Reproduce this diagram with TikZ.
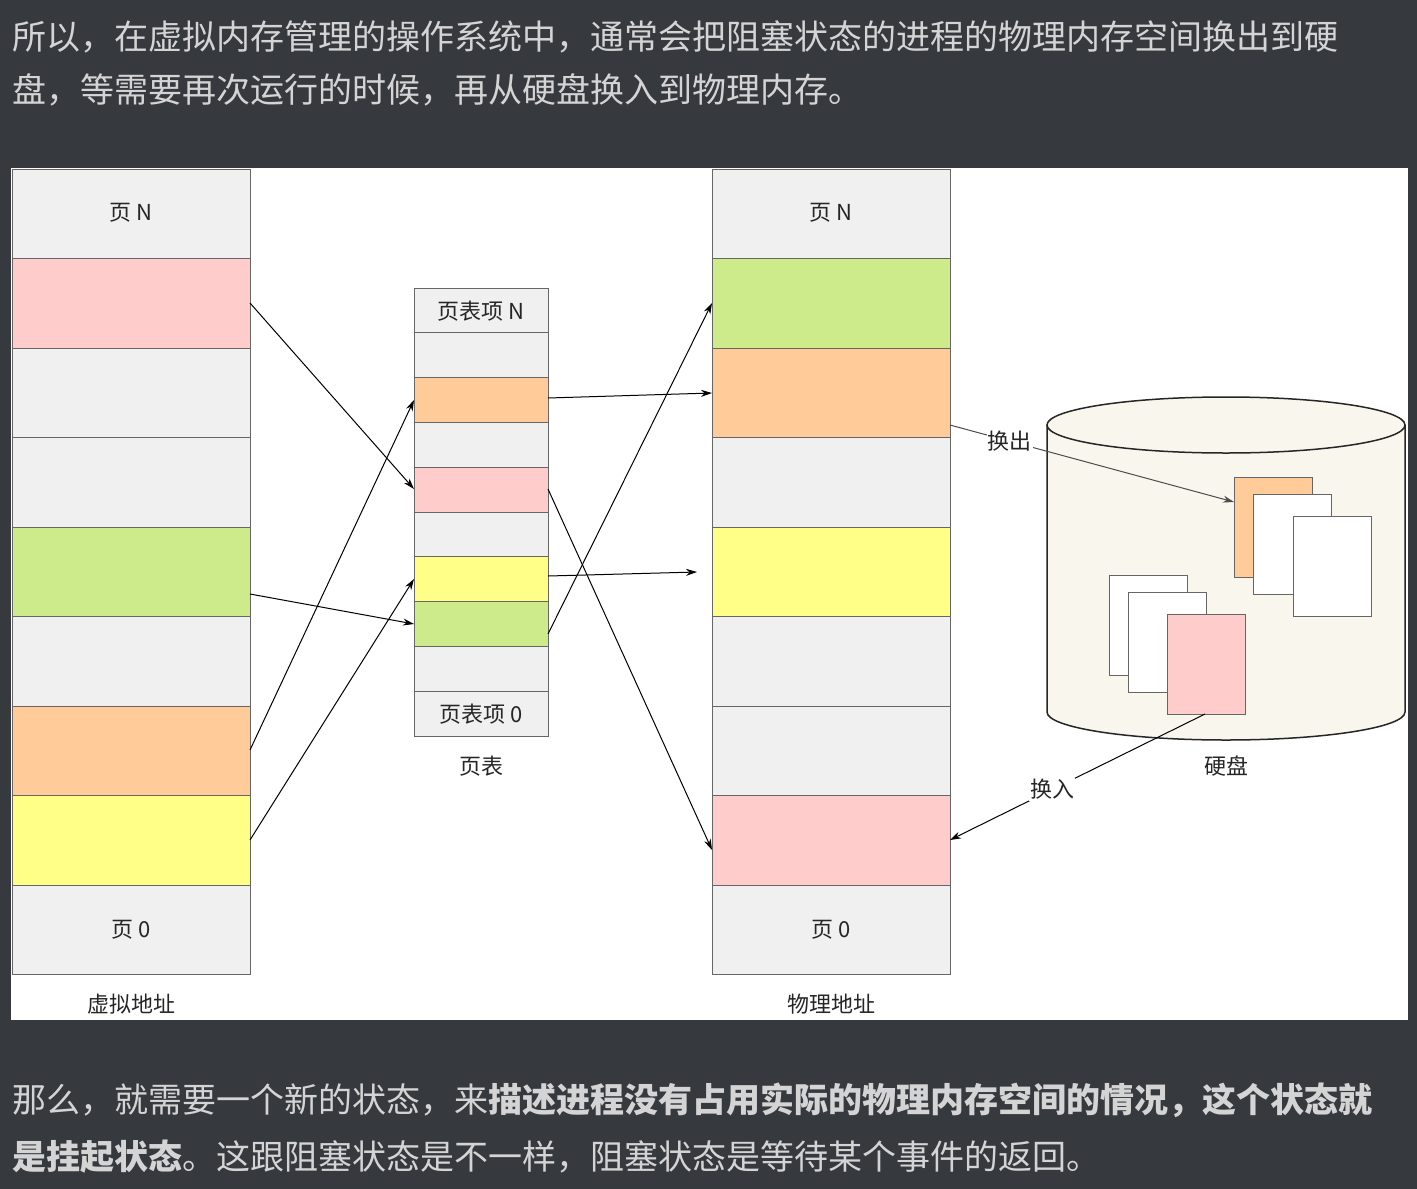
\documentclass[tikz,border=0pt]{standalone}
\usepackage{fontspec}
\setmainfont{Noto Sans CJK SC}
\usetikzlibrary{arrows.meta}
\definecolor{bg}{HTML}{363A3F}
\definecolor{tx}{HTML}{D4D4D4}
\definecolor{cg}{HTML}{F0F0F0}
\definecolor{cp}{HTML}{FFCCCC}
\definecolor{cgr}{HTML}{CDEB8B}
\definecolor{co}{HTML}{FFCC99}
\definecolor{cy}{HTML}{FFFF88}
\definecolor{cyl}{HTML}{F9F7ED}
\tikzset{cell/.style={draw=black!60,line width=1pt},
 lbl/.style={font=\fontsize{22}{26}\selectfont,text=black!85},
 para/.style={font=\fontsize{34}{38}\selectfont,text=tx,anchor=west,inner sep=0},
 arr/.style={-{Stealth[length=11pt,width=7pt]},line width=1pt}}
\begin{document}
\begin{tikzpicture}[x=1pt,y=-1pt]
\fill[bg] (0,0) rectangle (1417,1189);
\fill[white] (11,168) rectangle (1408,1020);
\node[para] (t1) at (12,37) {所以，在虚拟内存管理的操作系统中，通常会把阻塞状态的进程的物理内存空间换出到硬};
\node[para] (t2) at (12,90) {盘，等需要再次运行的时候，再从硬盘换入到物理内存。};
\node[para] (b1) at (12,1100) {那么，就需要一个新的状态，来\textbf{描述进程没有占用实际的物理内存空间的情况，这个状态就}};
\node[para] (b2) at (12,1157) {\textbf{是挂起状态}。这跟阻塞状态是不一样，阻塞状态是等待某个事件的返回。};
% virtual
\foreach \c [count=\i from 0] in {cg,cp,cg,cg,cgr,cg,co,cy,cg}
  \filldraw[cell,fill=\c] (12,169+\i*89.5) rectangle (250,258.5+\i*89.5);
\node[lbl] (vN) at (131,213) {页 N};
\node[lbl] (v0) at (131,930) {页 0};
\node[lbl] (vl) at (131,1004) {虚拟地址};
% physical
\foreach \c [count=\i from 0] in {cg,cgr,co,cg,cy,cg,cg,cp,cg}
  \filldraw[cell,fill=\c] (712,169+\i*89.5) rectangle (950,258.5+\i*89.5);
\node[lbl] (pN) at (831,213) {页 N};
\node[lbl] (p0) at (831,930) {页 0};
\node[lbl] (pl) at (831,1004) {物理地址};
% page table
\foreach \c [count=\i from 0] in {cg,cg,co,cg,cp,cg,cy,cgr,cg,cg}
  \filldraw[cell,fill=\c] (414,288+\i*44.8) rectangle (548,332.8+\i*44.8);
\node[lbl] (tN) at (481,311) {页表项 N};
\node[lbl] (t0) at (481,714) {页表项 0};
\node[lbl] (tl) at (481,766) {页表};
% coordinates
\coordinate (vp) at (250,303); \coordinate (vg) at (250,594);
\coordinate (vo) at (250,750); \coordinate (vy) at (250,840);
\coordinate (tpL) at (414,489); \coordinate (tgL) at (414,624);
\coordinate (toL) at (414,400); \coordinate (tyL) at (414,579);
\coordinate (toR) at (548,398); \coordinate (tpR) at (548,489);
\coordinate (tyR) at (548,576); \coordinate (tgR) at (548,634);
\coordinate (po) at (712,393); \coordinate (pp) at (712,850);
\coordinate (py) at (697,572); \coordinate (pg) at (712,303);
\draw[arr] (vp) -- (tpL); \draw[arr] (vg) -- (tgL);
\draw[arr] (vo) -- (toL); \draw[arr] (vy) -- (tyL);
\draw[arr] (toR) -- (po); \draw[arr] (tpR) -- (pp);
\draw[arr] (tyR) -- (py); \draw[arr] (tgR) -- (pg);
% disk
\filldraw[fill=cyl,draw=black!85,line width=1.5pt] (1047,425) -- (1047,712) arc[start angle=180,end angle=0,x radius=179,y radius=28] -- (1405,425);
\filldraw[fill=cyl,draw=black!85,line width=1.5pt] (1226,425) ellipse[x radius=179,y radius=28];
\node[lbl] (dl) at (1226,766) {硬盘};
\filldraw[cell,fill=co] (1234,477) rectangle (1312,577);
\filldraw[cell,fill=white] (1253,494) rectangle (1331,594);
\filldraw[cell,fill=white] (1293,516) rectangle (1371,616);
\filldraw[cell,fill=white] (1109,575) rectangle (1187,675);
\filldraw[cell,fill=white] (1128,592) rectangle (1206,692);
\filldraw[cell,fill=cp] (1167,614) rectangle (1245,714);
\coordinate (outS) at (950,425); \coordinate (outE) at (1234,502);
\coordinate (inS) at (1205,714); \coordinate (inE) at (950,840);
\draw[arr,draw=black!70] (outS) -- node[lbl,fill=white,inner sep=1pt,pos=0.21] (ho) {换出} (outE);
\draw[arr] (inS) -- node[lbl,fill=white,inner sep=1pt,pos=0.6] (hi) {换入} (inE);
\end{tikzpicture}
\end{document}
